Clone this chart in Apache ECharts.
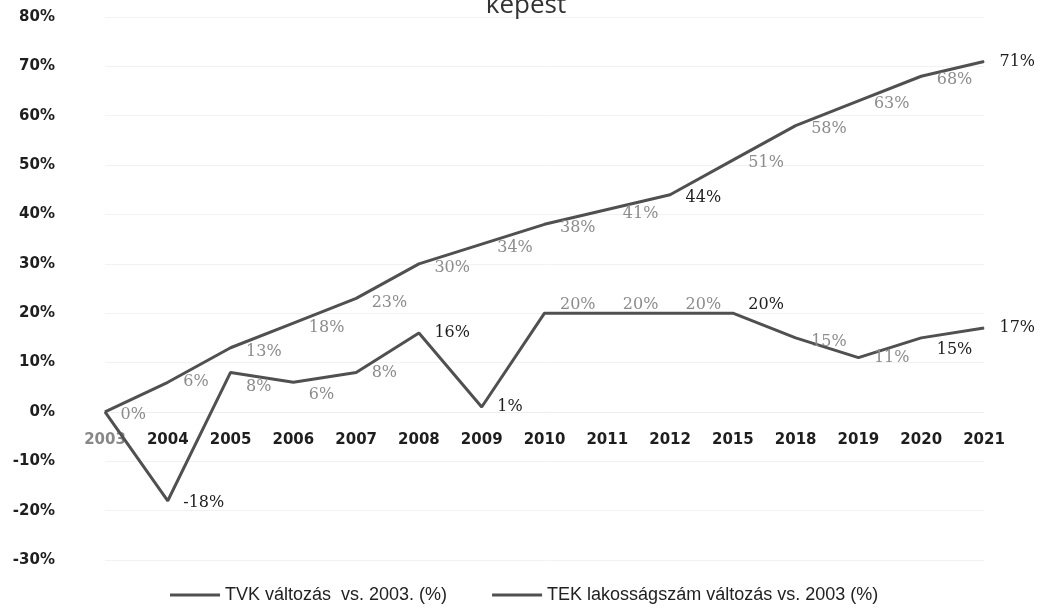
<!DOCTYPE html>
<html>
<head>
<meta charset="utf-8">
<script src="https://cdn.jsdelivr.net/npm/echarts@6/dist/echarts.min.js"></script>
<style>
  html, body { margin: 0; padding: 0; background: #fff; }
  #chart { width: 1040px; height: 612px; }
</style>
</head>
<body>
<div id="chart"></div>
<script>
// years on the x axis
var years = ['2003', '2004', '2005', '2006', '2007', '2008', '2009', '2010', '2011', '2012', '2015', '2018', '2019', '2020', '2021']
// TVK change vs 2003 (%)
var tvkChange = [0, -18, 8, 6, 8, 16, 1, 20, 20, 20, 20, 15, 11, 15, 17]
// TEK population change vs 2003 (%)
var tekChange = [0, 6, 13, 18, 23, 30, 34, 38, 41, 44, 51, 58, 63, 68, 71]
var seriesNames = ['TVK változás  vs. 2003. (%)', 'TEK lakosságszám változás vs. 2003 (%)']

var myChart = echarts.init(document.getElementById('chart'))

var lineColor = '#505050'
var greyLabel = '#8c8c8c'
var darkLabel = '#1e1e1e'

// which labels print dark in the scan, and small vertical nudges
var tvkDark = [1, 5, 6, 10, 13, 14]
var tekDark = [9, 14]
var tvkShift = { 1: 2, 2: 14, 3: 13, 7: -8, 8: -8, 9: -8, 10: -8, 11: 4, 13: 12 }
var tekShift = { 0: 3, 2: 4, 3: 5, 4: 4, 5: 4, 6: 4, 7: 4, 8: 4, 9: 3, 10: 3, 11: 3, 12: 3, 13: 4, 14: 0 }

function buildData(values, darkIdx, shift, hideFirst) {
  return values.map(function (v, i) {
    return {
      value: v,
      label: {
        show: !(hideFirst && i === 0),
        color: darkIdx.indexOf(i) >= 0 ? darkLabel : greyLabel,
        offset: [0, shift[i] || 0]
      }
    }
  })
}

var option = {
  backgroundColor: '#fff',
  animation: false,
  title: {
    text: 'képest',
    left: 521,
    top: -12,
    textAlign: 'center',
    textStyle: {
      fontFamily: 'Open Sans',
      fontSize: 26,
      fontWeight: 'normal',
      color: '#333'
    }
  },
  legend: {
    data: seriesNames,
    left: 165,
    bottom: 3,
    icon: 'rect',
    itemWidth: 50,
    itemHeight: 3,
    itemGap: 45,
    textStyle: {
      fontFamily: 'Liberation Sans',
      fontSize: 18,
      color: '#222'
    }
  },
  grid: {
    left: 105,
    right: 56,
    top: 17,
    bottom: 52
  },
  xAxis: {
    type: 'category',
    data: years,
    boundaryGap: false,
    // the category labels sit just under the 0% line
    offset: -148,
    axisLine: { onZero: false, lineStyle: { color: '#eeeeee' } },
    axisTick: { show: false },
    axisLabel: {
      margin: 21,
      fontFamily: 'DejaVu Sans',
      fontWeight: 'bold',
      fontSize: 15,
      color: function (val, idx) {
        return idx === 0 ? '#888' : '#1e1e1e'
      }
    }
  },
  yAxis: {
    type: 'value',
    min: -30,
    max: 80,
    interval: 10,
    axisLine: { show: false },
    axisTick: { show: false },
    splitLine: { lineStyle: { color: '#f2f2f2', width: 1 } },
    axisLabel: {
      margin: 50,
      formatter: '{value}%',
      fontFamily: 'DejaVu Sans',
      fontWeight: 'bold',
      fontSize: 15,
      color: '#1e1e1e'
    }
  },
  series: [
    {
      name: seriesNames[0],
      type: 'line',
      data: buildData(tvkChange, tvkDark, tvkShift, true),
      symbol: 'circle',
      symbolSize: 1,
      itemStyle: { color: lineColor },
      lineStyle: { color: lineColor, width: 3 },
      label: {
        show: true,
        position: 'right',
        distance: 15,
        formatter: '{c}%',
        fontFamily: 'DejaVu Serif',
        fontSize: 16
      }
    },
    {
      name: seriesNames[1],
      type: 'line',
      data: buildData(tekChange, tekDark, tekShift, false),
      symbol: 'circle',
      symbolSize: 1,
      itemStyle: { color: lineColor },
      lineStyle: { color: lineColor, width: 3 },
      label: {
        show: true,
        position: 'right',
        distance: 15,
        formatter: '{c}%',
        fontFamily: 'DejaVu Serif',
        fontSize: 16
      }
    }
  ]
}
myChart.setOption(option)
</script>
</body>
</html>
